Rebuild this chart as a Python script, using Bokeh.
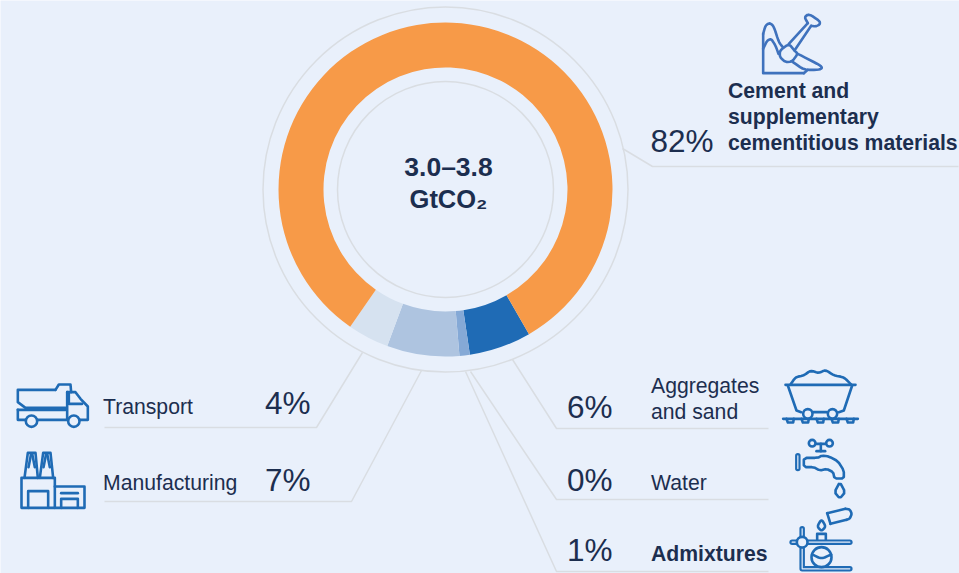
from bokeh.plotting import figure
from bokeh.embed import file_html
from bokeh.resources import INLINE
from bokeh.core.properties import value
from bokeh.models import Range1d
import math

W, H = 959, 573
BG = "#e9f0fb"
INK = "#1c2e4f"
RULE = "#d9dde2"
BLUE = "#1f6bb5"
FONT = "Liberation Sans"

# ---- data ----
ring_names = ["Aggregates and sand", "Admixtures", "Manufacturing", "Transport", "Cement and supplementary cementitious materials"]
ring_values = [6, 1, 7, 4, 82]
ring_colors = ["#1f6bb5", "#85a9d6", "#aec4e0", "#d6e2f0", "#f79a48"]
center_lines = ["3.0–3.8", "GtCO₂"]
pct_labels = ["82%", "4%", "7%", "6%", "0%", "1%"]

p = figure(width=W, height=H, output_backend="svg", toolbar_location=None,
           x_range=Range1d(0, W), y_range=Range1d(0, H),
           min_border=0, outline_line_color=None, background_fill_color=BG,
           border_fill_color=BG, styles={"position": "absolute", "left": "0", "top": "0"})
p.axis.visible = False
p.grid.visible = False

def Y(y):
    return H - y

CX, CY = 445, 189
start = -60.0
a = start
starts, ends = [], []
for v in ring_values:
    b = a - v * 3.6
    starts.append(math.radians(b))
    ends.append(math.radians(a))
    a = b
p.annular_wedge(x=[CX] * 5, y=[Y(CY)] * 5, inner_radius=122, outer_radius=167,
                start_angle=starts, end_angle=ends, direction="anticlock",
                fill_color=ring_colors, line_color=None)

for r in (108, 182.5):
    p.circle(x=[CX], y=[Y(CY)], radius=r, fill_color=None, line_color=RULE, line_width=1.5)

def leader(pts):
    p.line([q[0] for q in pts], [Y(q[1]) for q in pts], line_color=RULE, line_width=1.5)

for pts in [
    [(622, 148), (652, 166), (958, 166)],
    [(362, 352), (316, 427), (104, 427)],
    [(421, 370), (351, 501), (104, 501)],
    [(512, 359), (556, 428), (768, 428)],
    [(470, 371), (556, 499), (768, 499)],
    [(465, 371), (556, 571), (768, 571)],
]:
    leader(pts)

def txt(x, y, s, size, bold=False, align="left"):
    # the renderer sets alphabetic text about 0.37 em under the anchor
    p.text([x], [Y(y - 0.37 * size)], text=[s], text_font=value(FONT), text_font_size=f"{size}px",
           text_font_style="bold" if bold else "normal", text_color=INK,
           text_align=align, text_baseline="alphabetic")

txt(448, 176, center_lines[0], 26.5, True, "center")
txt(448, 208, center_lines[1], 25.5, True, "center")

for (x, y), s in zip([(713, 152), (310, 414), (310, 491), (612, 418), (612, 491), (612, 561)], pct_labels):
    txt(x, y, s, 31.5, False, "right")

for y, s in zip((98, 124, 150), ("Cement and", "supplementary", "cementitious materials")):
    txt(727.5, y, s, 21.2, True)
txt(102.5, 414, "Transport", 21.2)
txt(102.5, 490, "Manufacturing", 21.2)
txt(650.5, 393, "Aggregates", 21.2)
txt(650.5, 419, "and sand", 21.2)
txt(650.5, 490, "Water", 21.2)
txt(650.5, 561, "Admixtures", 21.2, True)

# ---- icons (outlines traced in 3x crop coordinates) ----
def smooth(path, n=1):
    pts = list(path)
    closed = pts[0] == pts[-1]
    for _ in range(n):
        out = [] if closed else [pts[0]]
        for q0, q1 in zip(pts, pts[1:]):
            out.append((0.8 * q0[0] + 0.2 * q1[0], 0.8 * q0[1] + 0.2 * q1[1]))
            out.append((0.2 * q0[0] + 0.8 * q1[0], 0.2 * q0[1] + 0.8 * q1[1]))
        if closed:
            out.append(out[0])
        else:
            out.append(pts[-1])
        pts = out
    return pts

def icon(ox, oy, paths, curves=(), circles=(), rods=(), color=BLUE, lw=2.6, n=1):
    all_paths = list(paths) + [smooth(c, n) for c in curves]
    for path in all_paths:
        p.line([ox + q[0] / 3 for q in path], [Y(oy + q[1] / 3) for q in path],
               line_color=color, line_width=lw, line_cap="round", line_join="round")
    for path in rods:
        xs = [ox + q[0] / 3 for q in path]
        ys = [Y(oy + q[1] / 3) for q in path]
        p.line(xs, ys, line_color=color, line_width=5.5, line_cap="round", line_join="round")
        p.line(xs, ys, line_color=BG, line_width=1.2, line_cap="round", line_join="round")
    for cx, cy, r in circles:
        p.circle(x=[ox + cx / 3], y=[Y(oy + cy / 3)], radius=r / 3, fill_color=BG,
                 line_color=color, line_width=lw)

# heap and shovel
icon(720, 0, [
    [(250, 218), (128, 218), (128, 100)],
    [(250, 218), (262, 208)],
    [(205, 130), (262, 68)],
    [(222, 150), (272, 76)],
], curves=[
    [(128, 100), (135, 75), (148, 67), (160, 78), (175, 125), (187, 140)],
    [(128, 145), (140, 120), (152, 115), (165, 135), (174, 160)],
    [(205, 130), (178, 150), (178, 170), (195, 185), (215, 183), (232, 160), (222, 150), (205, 130)],
    [(262, 68), (252, 50), (265, 40), (298, 62), (298, 72), (285, 78), (272, 76)],
    [(232, 160), (300, 195), (305, 203), (295, 208), (250, 208), (215, 183)],
], color="#3f72bd", n=2)

# truck
icon(0, 370, [
    [(52, 118), (195, 118)],
    [(205, 68), (205, 100), (245, 100)],
    [(200, 65), (200, 148), (112, 148)],
    [(52, 118), (52, 148), (75, 148)],
    [(165, 58), (52, 58), (52, 95), (75, 112), (195, 112)],
    [(165, 58), (175, 42), (210, 42), (212, 65)],
    [(200, 65), (225, 65), (240, 85), (262, 108), (262, 148), (240, 148)],
], circles=[(93, 152, 17), (220, 152, 17)])

# factory
icon(0, 370, [
    [(63, 322), (163, 322), (163, 412), (63, 412), (63, 322)],
    [(163, 348), (252, 348), (252, 412), (163, 412)],
    [(83, 412), (83, 362), (143, 362), (143, 412)],
    [(182, 412), (182, 385), (232, 385), (232, 412)],
    [(182, 368), (232, 368)],
    [(72, 322), (82, 247), (105, 247), (112, 322)],
    [(118, 322), (128, 247), (150, 247), (158, 322)],
    [(92, 250), (84, 290)],
    [(95, 250), (103, 290)],
    [(137, 250), (129, 290)],
    [(140, 250), (148, 290)],
])

# mine cart
icon(760, 360, [
    [(75, 73), (285, 73)],
    [(82, 75), (108, 150), (122, 155)],
    [(275, 75), (250, 150), (235, 155)],
    [(158, 155), (198, 155)],
    [(68, 175), (292, 175)],
    [(78, 175), (82, 186), (98, 186), (100, 175)],
    [(123, 175), (127, 186), (143, 186), (145, 175)],
    [(168, 175), (172, 186), (188, 186), (190, 175)],
    [(213, 175), (217, 186), (233, 186), (235, 175)],
    [(258, 175), (262, 186), (278, 186), (280, 175)],
], curves=[
    [(90, 72), (105, 50), (130, 45), (150, 30), (175, 38), (195, 28), (220, 45), (250, 50), (272, 72)],
], circles=[(142, 160, 14), (216, 160, 14)], n=2)

# tap
icon(760, 360, [
    [(168, 250), (194, 250)],
    [(181, 250), (181, 272)],
    [(168, 272), (194, 272)],
], curves=[
    [(130, 292), (172, 292), (185, 285), (205, 288), (232, 302), (250, 330), (250, 354), (222, 354),
     (218, 335), (198, 325), (178, 330), (160, 320), (130, 320), (130, 292)],
    [(238, 365), (222, 395), (238, 414), (254, 395), (238, 365)],
], rods=[[(112, 286), (112, 324)]], circles=[(155, 248, 10), (207, 248, 10)])

# flask on a stand
icon(760, 360, [
    [(170, 540), (170, 520), (196, 520), (196, 540)],
    [(200, 458), (255, 445)],
    [(210, 490), (258, 478)],
    [(200, 458), (210, 490)],
], curves=[
    [(255, 445), (268, 447), (274, 460), (268, 474), (258, 478)],
    [(183, 476), (170, 498), (183, 512), (196, 498), (183, 476)],
], rods=[
    [(95, 545), (268, 545)],
    [(125, 505), (125, 530)],
    [(125, 565), (125, 625), (268, 625)],
], circles=[(183, 590, 30), (125, 545, 16)], n=2)
icon(760, 360, [], curves=[[(155, 582), (183, 595), (212, 582)]], n=2)

open("out.html", "w").write(file_html(p, INLINE))
